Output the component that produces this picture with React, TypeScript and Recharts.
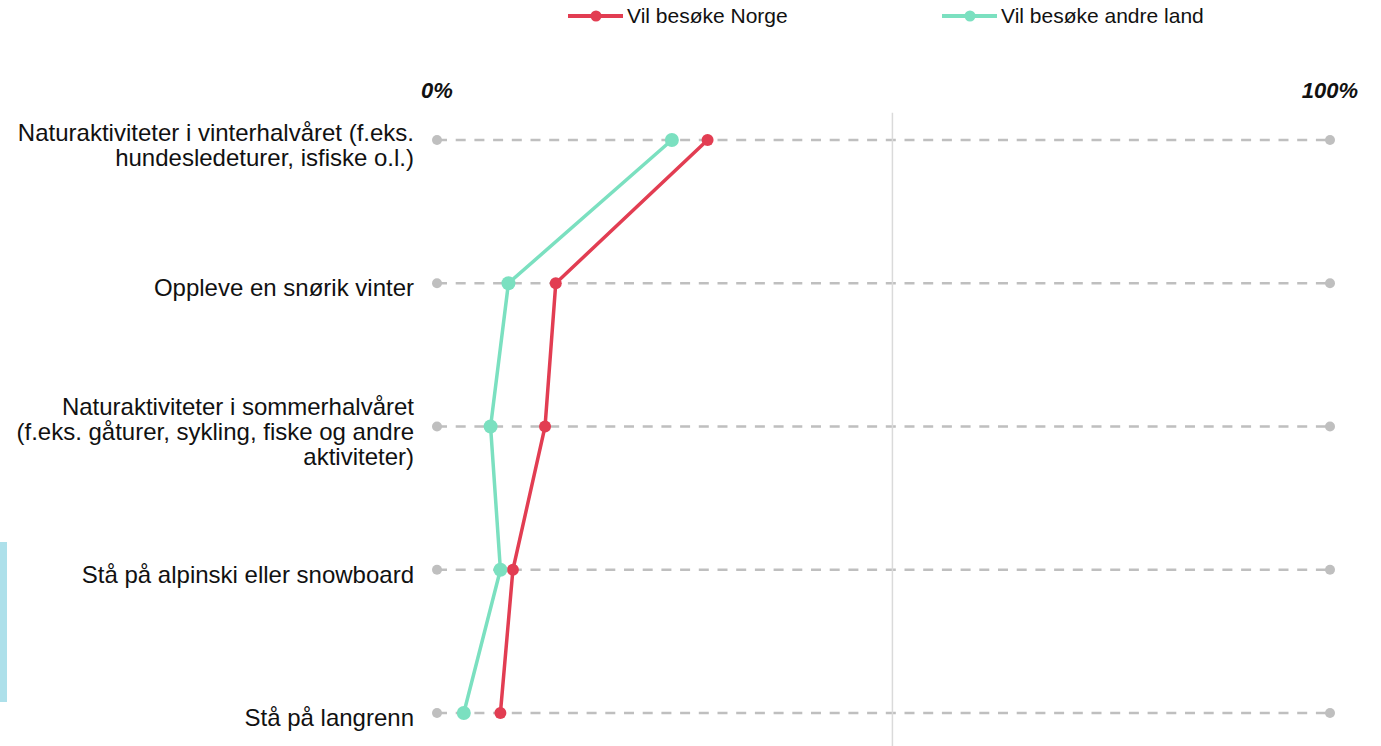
import React from 'react'
import {
  LineChart,
  Line,
  XAxis,
  YAxis,
  Legend,
  ReferenceLine,
  ReferenceDot,
} from 'recharts'

// Categories (line breaks as in the source labels)
const categories = [
  'Naturaktiviteter i vinterhalvåret (f.eks.\nhundesledeturer, isfiske o.l.)',
  'Oppleve en snørik vinter',
  'Naturaktiviteter i sommerhalvåret\n(f.eks. gåturer, sykling, fiske og andre\naktiviteter)',
  'Stå på alpinski eller snowboard',
  'Stå på langrenn',
]

const norge = [30.3, 13.3, 12.1, 8.5, 7.1]
const andreLand = [26.3, 8.0, 6.0, 7.1, 3.0]

const xTicks = [0, 100]
const divider = 51

const RED = '#E23D52'
const GREEN = '#7BE0C0'
const GREY = '#BFBFBF'
const FONT = "'Liberation Sans', Arial, sans-serif"

const data = categories.map((name, i) => ({
  idx: i,
  name,
  norge: norge[i],
  andre: andreLand[i],
}))

const CategoryTick = ({ x, y, payload }: any) => {
  const lines = String(categories[payload.value] ?? '').split('\n')
  const lh = 25
  const start = y + 13 - ((lines.length - 1) * lh) / 2
  return (
    <text x={x} y={start} textAnchor="end" fontSize={24} fontFamily={FONT} fill="#111">
      {lines.map((l, i) => (
        <tspan key={i} x={x} y={start + i * lh}>{l}</tspan>
      ))}
    </text>
  )
}

const PercentTick = ({ x, y, payload }: any) => (
  <text x={x} y={y} textAnchor="middle" fontSize={22} fontWeight="bold" fontStyle="italic" fontFamily={FONT} fill="#111">
    {`${payload.value}%`}
  </text>
)

const LegendContent = ({ payload }: any) => (
  <div style={{ position: 'relative', height: 32, fontFamily: FONT, fontSize: 21, color: '#111' }}>
    {(payload || []).map((p: any, i: number) => (
      <div
        key={p.value}
        style={{ position: 'absolute', left: 568 + i * 374, top: 4, display: 'flex', alignItems: 'center', whiteSpace: 'nowrap' }}
      >
        <svg width={56} height={24}>
          <line x1={0} y1={12} x2={55} y2={12} stroke={p.color} strokeWidth={4} />
          <circle cx={28} cy={12} r={5.5} fill={p.color} />
        </svg>
        <span style={{ marginLeft: 3 }}>{p.value}</span>
      </div>
    ))}
  </div>
)

export default function App() {
  return (
    <div style={{ position: 'relative', width: 1381, height: 746 }}>
      <style>{`body{margin:0}`}</style>
      <div style={{ position: 'absolute', left: 0, top: 542, width: 7, height: 160, background: '#ADE0EA' }} />
      <LineChart
        width={1381}
        height={746}
        data={data}
        layout="vertical"
        margin={{ top: 0, right: 51, left: 0, bottom: 33 }}
      >
        <Legend
          verticalAlign="top"
          align="left"
          content={<LegendContent />}
          wrapperStyle={{ left: 0, top: 0, width: 1381 }}
        />
        <XAxis
          type="number"
          orientation="top"
          domain={[0, 100]}
          ticks={xTicks}
          height={108}
          axisLine={false}
          tickLine={false}
          tickSize={0}
          tickMargin={42}
          tick={<PercentTick />}
        />
        <YAxis
          type="number"
          dataKey="idx"
          domain={[0, 4]}
          ticks={[0, 1, 2, 3, 4]}
          width={437}
          axisLine={false}
          tickLine={false}
          tickSize={0}
          tickMargin={23}
          tick={<CategoryTick />}
        />
        {data.map((d) => (
          <ReferenceLine key={`g-${d.idx}`} y={d.idx} stroke={GREY} strokeWidth={2.3} strokeDasharray="10 8.7" />
        ))}
        <ReferenceLine
          segment={[{ x: divider, y: -0.19 }, { x: divider, y: 4.23 }]}
          stroke="#DADADA"
          strokeWidth={1.5}
          ifOverflow="visible"
        />
        {data.map((d) => (
          <ReferenceDot key={`l-${d.idx}`} x={0} y={d.idx} r={5} fill={GREY} stroke="none" />
        ))}
        {data.map((d) => (
          <ReferenceDot key={`r-${d.idx}`} x={100} y={d.idx} r={5} fill={GREY} stroke="none" />
        ))}
        <Line
          dataKey="norge"
          name="Vil besøke Norge"
          stroke={RED}
          strokeWidth={3.5}
          dot={{ r: 6, fill: RED, stroke: 'none' }}
          activeDot={false}
          isAnimationActive={false}
        />
        <Line
          dataKey="andre"
          name="Vil besøke andre land"
          stroke={GREEN}
          strokeWidth={3.5}
          dot={{ r: 7, fill: GREEN, stroke: 'none' }}
          activeDot={false}
          isAnimationActive={false}
        />
      </LineChart>
    </div>
  )
}
